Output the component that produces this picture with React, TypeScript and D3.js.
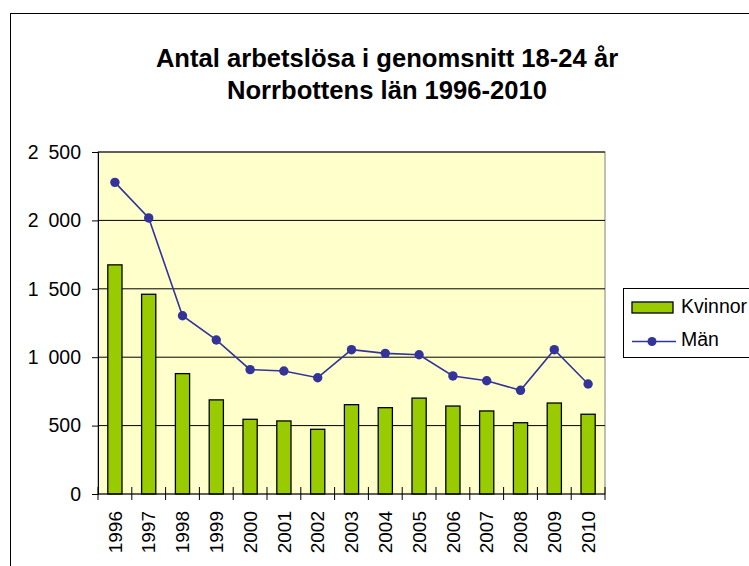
import React, { useEffect, useRef } from 'react';
import * as d3 from 'd3';

// data
const years = ['1996', '1997', '1998', '1999', '2000', '2001', '2002', '2003', '2004', '2005', '2006', '2007', '2008', '2009', '2010'];
const kvinnor = [1675, 1460, 880, 688, 546, 534, 473, 653, 631, 701, 643, 607, 521, 665, 583];
const man = [2278, 2018, 1303, 1126, 909, 899, 850, 1055, 1028, 1018, 863, 828, 758, 1055, 804];
const yTicks = [0, 500, 1000, 1500, 2000, 2500];
const titleLines = ['Antal arbetslösa i genomsnitt 18-24 år', 'Norrbottens län 1996-2010'];
const seriesNames = ['Kvinnor', 'Män'];

const FONT = "'Liberation Sans', Arial, sans-serif";

export default function App() {
    const ref = useRef<SVGSVGElement>(null);

    useEffect(() => {
        const svg = d3.select(ref.current);
        svg.selectAll('*').remove();

        const width = 749, height = 566;
        const margin = { top: 152, right: 144, bottom: 72, left: 98 };

        // outer chart frame (runs off the right and bottom edges)
        svg.append('rect')
            .attr('x', 10.5).attr('y', 13.5)
            .attr('width', 900).attr('height', 700)
            .attr('fill', '#fff').attr('stroke', '#000');

        // title
        svg.append('g')
            .selectAll('text').data(titleLines).enter().append('text')
            .attr('x', 387)
            .attr('y', (d, i) => 67 + i * 32)
            .attr('text-anchor', 'middle')
            .attr('font-family', FONT)
            .attr('font-weight', 'bold')
            .attr('font-size', 25.6)
            .text(d => d);

        const x = d3.scaleBand()
            .domain(years)
            .range([margin.left, width - margin.right]);

        const y = d3.scaleLinear()
            .domain([0, 2500])
            .range([height - margin.bottom, margin.top]);

        // plot background
        svg.append('rect')
            .attr('x', margin.left).attr('y', margin.top)
            .attr('width', width - margin.right - margin.left)
            .attr('height', y(0) - margin.top)
            .attr('fill', '#ffffcc')
            .attr('stroke', '#808080');

        // horizontal grid
        svg.append('g')
            .selectAll('line').data(yTicks.filter(d => d > 0)).enter().append('line')
            .attr('x1', margin.left).attr('x2', width - margin.right)
            .attr('y1', d => y(d)).attr('y2', d => y(d))
            .attr('stroke', '#000');

        // bars
        const barW = x.step() * 0.42;
        svg.append('g')
            .attr('fill', '#99cc00')
            .attr('stroke', '#000')
            .attr('stroke-width', 1.3)
            .selectAll('rect').data(kvinnor).enter().append('rect')
            .attr('x', (d, i) => x(years[i])! + x.bandwidth() / 2 - barW / 2)
            .attr('y', d => y(d))
            .attr('width', barW)
            .attr('height', d => y(0) - y(d));

        // line
        const line = d3.line<number>()
            .x((d, i) => x(years[i])! + x.bandwidth() / 2)
            .y(d => y(d));
        svg.append('path')
            .datum(man)
            .attr('d', line)
            .attr('fill', 'none')
            .attr('stroke', '#333399')
            .attr('stroke-width', 1.6);
        svg.append('g')
            .attr('fill', '#333399')
            .selectAll('circle').data(man).enter().append('circle')
            .attr('cx', (d, i) => x(years[i])! + x.bandwidth() / 2)
            .attr('cy', d => y(d))
            .attr('r', 4.7);

        // y axis, thousands split by a wide space like the original
        const fmt = (v: number) => v >= 1000 ? `${Math.floor(v / 1000)}\u2002${String(v % 1000).padStart(3, '0')}` : String(v);
        const yAxis = svg.append('g')
            .attr('transform', `translate(${margin.left},0)`)
            .call(d3.axisLeft(y).tickValues(yTicks).tickFormat(d => fmt(+d)).tickSize(6).tickPadding(11));
        yAxis.select('.domain').attr('stroke', '#000');
        yAxis.selectAll('.tick line').attr('stroke', '#000');
        yAxis.selectAll('text')
            .attr('font-family', FONT)
            .attr('font-size', 19.5)
            .attr('fill', '#000');

        // x axis: ticks sit on the band edges and cross the axis line
        const xAxis = svg.append('g')
            .attr('transform', `translate(0,${y(0)})`);
        xAxis.append('line')
            .attr('x1', margin.left).attr('x2', width - margin.right)
            .attr('stroke', '#000');
        const edges = years.map(d => x(d)!).concat([width - margin.right]);
        xAxis.selectAll('line.tk').data(edges).enter().append('line')
            .attr('class', 'tk')
            .attr('x1', d => d).attr('x2', d => d)
            .attr('y1', -7).attr('y2', 6)
            .attr('stroke', '#000');
        xAxis.selectAll('text').data(years).enter().append('text')
            .attr('transform', d => `translate(${x(d)! + x.bandwidth() / 2},17) rotate(-90)`)
            .attr('text-anchor', 'end')
            .attr('dy', '0.35em')
            .attr('font-family', FONT)
            .attr('font-size', 19)
            .text(d => d);

        // legend
        const lg = svg.append('g');
        lg.append('rect')
            .attr('x', 623.5).attr('y', 288.5)
            .attr('width', 200).attr('height', 69)
            .attr('fill', '#fff').attr('stroke', '#000');
        lg.append('rect')
            .attr('x', 632).attr('y', 302)
            .attr('width', 41).attr('height', 11)
            .attr('fill', '#99cc00').attr('stroke', '#000').attr('stroke-width', 1.3);
        lg.append('line')
            .attr('x1', 632).attr('x2', 676)
            .attr('y1', 341.5).attr('y2', 341.5)
            .attr('stroke', '#333399').attr('stroke-width', 1.6);
        lg.append('circle')
            .attr('cx', 652).attr('cy', 341.5).attr('r', 4.5)
            .attr('fill', '#333399');
        lg.selectAll('text').data(seriesNames).enter().append('text')
            .attr('x', 681)
            .attr('y', (d, i) => 313 + i * 33)
            .attr('font-family', FONT)
            .attr('font-size', 19.5)
            .text(d => d);
    }, []);

    return (
        <div style={{ position: 'absolute', left: 0, top: 0 }}>
            <svg ref={ref} width={749} height={566} style={{ display: 'block' }} />
        </div>
    );
}
